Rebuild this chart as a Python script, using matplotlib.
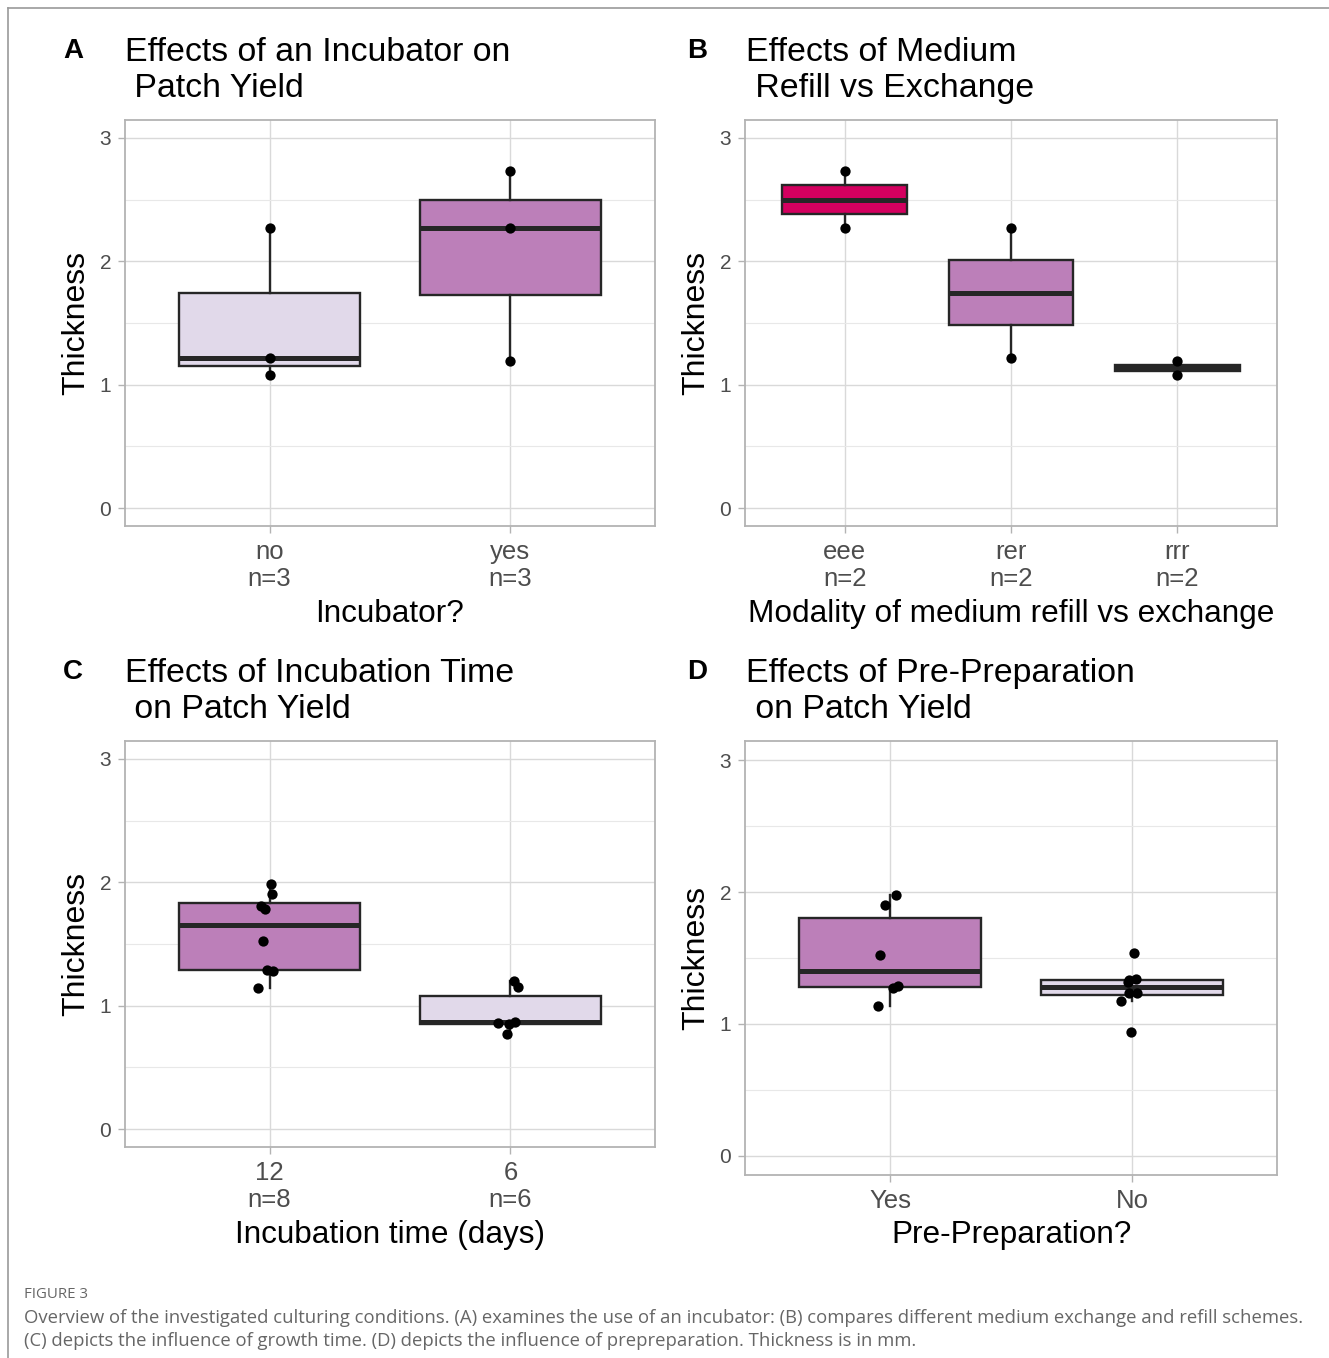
import matplotlib
matplotlib.use("Agg")
import matplotlib.pyplot as plt
from matplotlib.lines import Line2D

plt.rcParams['font.family'] = ['Liberation Sans', 'DejaVu Sans']

# ---- data ----
a_labels = ['no\nn=3', 'yes\nn=3']
a_values = [[1.08, 1.22, 2.27], [1.19, 2.27, 2.73]]
a_jitter = [[0, 0, 0], [0, 0, 0]]
a_colors = ['#E1D9EA', '#BC7FB9']

b_labels = ['eee\nn=2', 'rer\nn=2', 'rrr\nn=2']
b_values = [[2.27, 2.73], [1.22, 2.27], [1.08, 1.19]]
b_jitter = [[0, 0], [0, 0], [0, 0]]
b_colors = ['#D4005F', '#BC7FB9', '#262626']

c_labels = ['12\nn=8', '6\nn=6']
c_values = [[1.14, 1.28, 1.29, 1.525, 1.785, 1.805, 1.905, 1.99],
            [0.77, 0.85, 0.86, 0.87, 1.15, 1.20]]
c_jitter = [[-0.046, 0.013, -0.009, -0.027, -0.019, -0.037, 0.010, 0.006],
            [-0.013, -0.007, -0.050, 0.017, 0.031, 0.014]]
c_colors = ['#BC7FB9', '#E1D9EA']

d_labels = ['Yes', 'No']
d_values = [[1.135, 1.275, 1.29, 1.52, 1.90, 1.98],
            [0.94, 1.175, 1.235, 1.235, 1.32, 1.335, 1.34, 1.54]]
d_jitter = [[-0.050, 0.014, 0.034, -0.041, -0.020, 0.026],
            [-0.004, -0.044, -0.012, 0.022, -0.018, -0.010, 0.015, 0.008]]
d_colors = ['#BC7FB9', '#E1D9EA']

W, H = 1329, 1358
fig = plt.figure(figsize=(W / 100, H / 100), dpi=100)

def px_axes(x0, y0, x1, y1):
    return fig.add_axes([x0 / W, 1 - y1 / H, (x1 - x0) / W, (y1 - y0) / H])

def panel(ax, labels, values, jitter, colors, xlabel, xlab_y):
    n = len(labels)
    pos = list(range(1, n + 1))
    bp = ax.boxplot(values, positions=pos, widths=0.75, patch_artist=True,
                    showfliers=False, showcaps=False, whis=1.5,
                    boxprops=dict(edgecolor='#262626', linewidth=1.7),
                    whiskerprops=dict(color='#262626', linewidth=1.7),
                    medianprops=dict(color='#262626', linewidth=3.6,
                                     solid_capstyle='butt'),
                    zorder=2)
    for patch, col in zip(bp['boxes'], colors):
        patch.set_facecolor(col)
    for p, vals, jit in zip(pos, values, jitter):
        ax.scatter([p + j for j in jit], vals, s=55, color='black',
                   zorder=4, linewidths=0)
    ax.set_xlim(0.4, n + 0.6)
    ax.set_ylim(-0.145, 3.145)
    ax.set_xticks(pos)
    ax.set_xticklabels(labels, fontsize=18.5, color='#4D4D4D', linespacing=1.15)
    ax.set_yticks([0, 1, 2, 3])
    ax.set_yticks([0.5, 1.5, 2.5], minor=True)
    ax.tick_params(axis='y', labelsize=15, labelcolor='#4D4D4D', pad=5)
    ax.tick_params(axis='x', pad=5)
    ax.tick_params(which='major', color='#B3B3B3', length=5, width=1)
    ax.tick_params(which='minor', length=0)
    ax.grid(which='major', color='#D9D9D9', linewidth=1.0)
    ax.grid(which='minor', axis='y', color='#E8E8E8', linewidth=0.8)
    ax.set_axisbelow(True)
    for s in ax.spines.values():
        s.set_color('#B3B3B3')
        s.set_linewidth(1.3)
    ax.set_ylabel('Thickness', fontsize=23, color='black')
    ax.set_xlabel(xlabel, fontsize=22.7, color='black')
    ax.yaxis.set_label_coords(-0.063, 0.5)
    ax.xaxis.set_label_coords(0.5, xlab_y)

axA = px_axes(125, 120, 655, 526)
panel(axA, a_labels, a_values, a_jitter, a_colors, 'Incubator?', -0.18)
axB = px_axes(745, 120, 1277, 526)
panel(axB, b_labels, b_values, b_jitter, b_colors,
      'Modality of medium refill vs exchange', -0.18)
axC = px_axes(125, 741, 655, 1147)
panel(axC, c_labels, c_values, c_jitter, c_colors, 'Incubation time (days)', -0.179)
axD = px_axes(745, 741, 1277, 1175)
panel(axD, d_labels, d_values, d_jitter, d_colors, 'Pre-Preparation?', -0.103)

# titles and panel letters
titles = [(125, 37, 'Effects of an Incubator on\n Patch Yield', 'A', 63),
          (746, 37, 'Effects of Medium\n Refill vs Exchange', 'B', 687),
          (125, 658, 'Effects of Incubation Time\n on Patch Yield', 'C', 63),
          (746, 658, 'Effects of Pre-Preparation\n on Patch Yield', 'D', 687)]
for tx, ty, t, letter, lx in titles:
    fig.text(tx / W, 1 - ty / H, t, fontsize=24.4, va='top', ha='left',
             linespacing=1.2)
    fig.text(lx / W, 1 - (ty + 1) / H, letter, fontsize=20, fontweight='bold',
             va='top', ha='left')

# caption
cap_font = ['Open Sans', 'DejaVu Sans']
fig.text(24 / W, 1 - 1295 / H, 'FIGURE 3', fontsize=10.8, color='#666666',
         va='center', family=cap_font)
fig.text(24 / W, 1 - 1318 / H,
         'Overview of the investigated culturing conditions. (A) examines the use of an '
         'incubator: (B) compares different medium exchange and refill schemes.',
         fontsize=13.3, color='#666666', va='center', family=cap_font)
fig.text(24 / W, 1 - 1341 / H,
         '(C) depicts the influence of growth time. (D) depicts the influence of '
         'prepreparation. Thickness is in mm.',
         fontsize=13.3, color='#666666', va='center', family=cap_font)

# frame lines on top and left
fig.add_artist(Line2D([8 / W, 1], [1 - 8 / H, 1 - 8 / H], color='#9A9A9A', lw=1.2))
fig.add_artist(Line2D([8 / W, 8 / W], [1 - 8 / H, 0], color='#9A9A9A', lw=1.2))

fig.savefig('out.png', dpi=100)
